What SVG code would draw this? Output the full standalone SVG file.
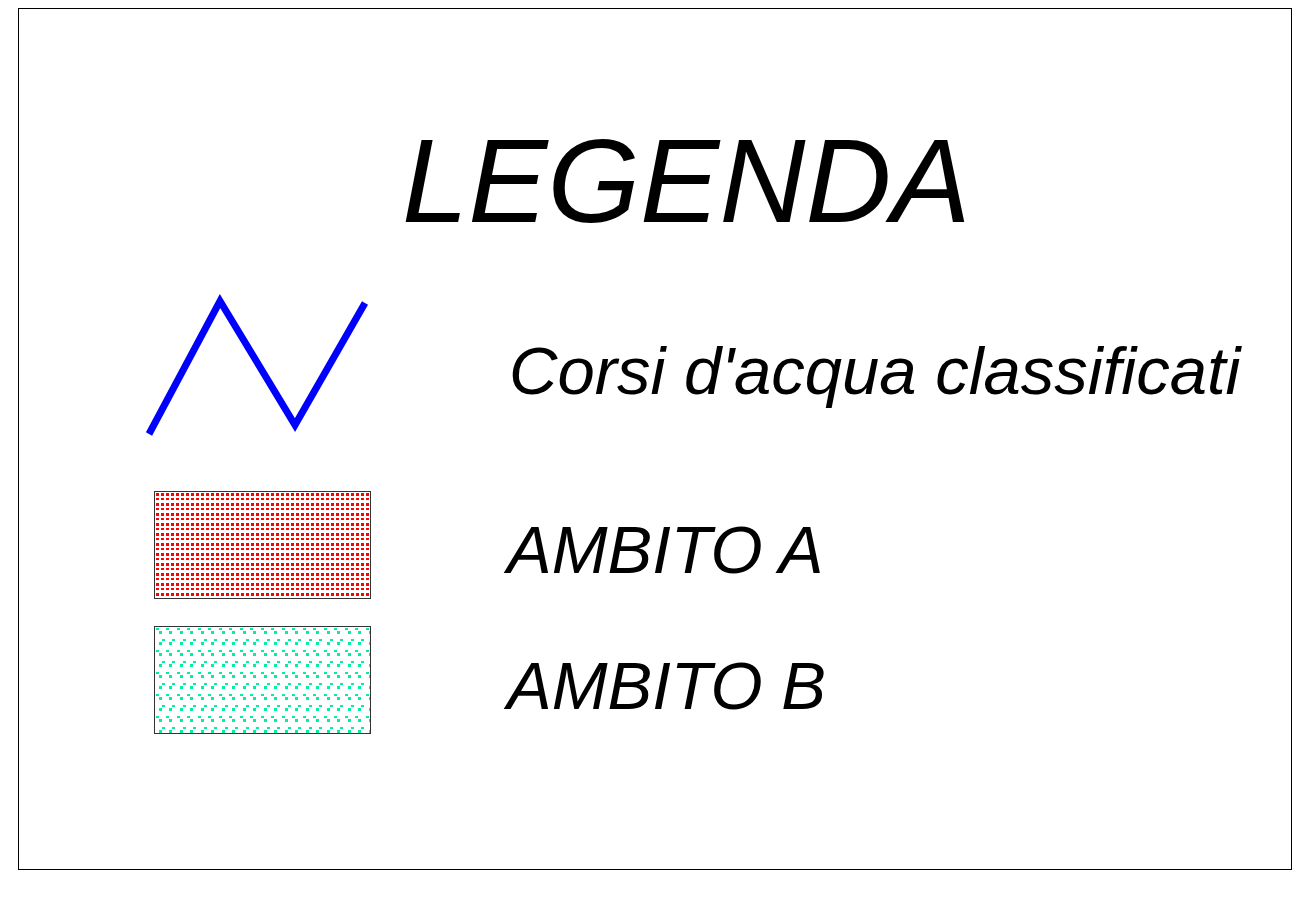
<svg xmlns="http://www.w3.org/2000/svg" width="1304" height="897" viewBox="0 0 1304 897">
<style>
.t{font-family:"Liberation Sans",Arial,sans-serif;font-style:italic;fill:#000}
.box{stroke:#333;stroke-width:1}
</style>
<defs>
<pattern id="pr" x="156" y="493" width="10" height="10" patternUnits="userSpaceOnUse">
<rect x="0" y="0" width="3" height="3" fill="#f00"/>
<rect x="5" y="0" width="3" height="3" fill="#f00"/>
<rect x="0" y="5" width="3" height="2" fill="#f00"/>
<rect x="5" y="5" width="3" height="2" fill="#f00"/>
</pattern>
<pattern id="pg" x="156" y="628" width="21" height="22" patternUnits="userSpaceOnUse">
<rect x="0" y="0" width="3" height="2" fill="#00f0a0"/>
<rect x="3" y="3" width="3" height="3" fill="#00f0a0"/>
<rect x="10" y="0" width="3" height="2" fill="#00f0a0"/>
<rect x="13" y="3" width="3" height="3" fill="#00f0a0"/>
<rect x="6" y="11" width="3" height="2" fill="#00f0a0"/>
<rect x="3" y="14" width="3" height="3" fill="#00f0a0"/>
<rect x="16" y="11" width="3" height="2" fill="#00f0a0"/>
<rect x="13" y="14" width="3" height="3" fill="#00f0a0"/>
</pattern>
</defs>
<rect x="0" y="0" width="1304" height="897" fill="#fff"/>
<rect x="18.5" y="8.5" width="1273" height="861" fill="none" stroke="#000" stroke-width="1"/>
<g id="title"><text class="t" x="402" y="222" font-size="119">LEGENDA</text></g>
<g id="corsi">
<polyline points="149,434 220,301 295,425 365,303" fill="none" stroke="#0000ff" stroke-width="7"/>
<text class="t" x="509" y="394" font-size="67">Corsi d'acqua classificati</text>
</g>
<g id="ambitoA">
<rect class="box" x="154.5" y="491.5" width="216" height="107" fill="url(#pr)"/>
<text class="t" x="507" y="573" font-size="67">AMBITO A</text>
</g>
<g id="ambitoB">
<rect class="box" x="154.5" y="626.5" width="216" height="107" fill="url(#pg)"/>
<text class="t" x="507" y="709" font-size="67">AMBITO B</text>
</g>
<g id="connectors"></g>
</svg>
